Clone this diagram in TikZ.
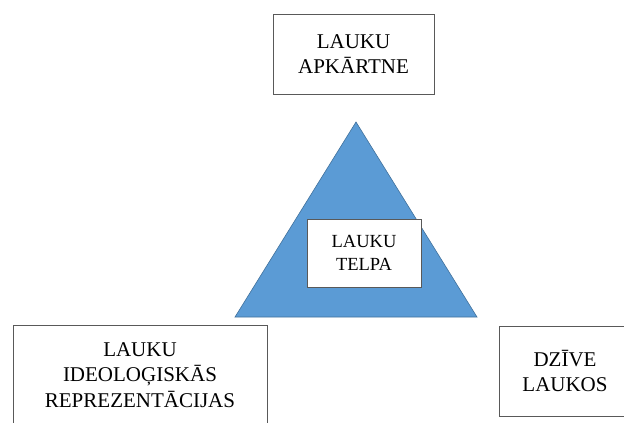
\documentclass[tikz,border=0pt]{standalone}
\usepackage{fontspec}
\setmainfont{Liberation Serif}

\definecolor{triblue}{HTML}{5B9BD5}
\definecolor{triedge}{HTML}{41719C}

\begin{document}
\begin{tikzpicture}[x=1pt, y=-1pt, box/.style = {draw=black!65, line width=1pt, fill=white, align=center, inner sep=0pt, font=\fontsize{21}{25.5}\selectfont}, smallbox/.style = {box, font=\fontsize{18.5}{23}\selectfont}]

% Frame
\useasboundingbox (0,0) rectangle (624,423);
\clip (0,0) rectangle (624,423);

% Triangle
\coordinate (apex) at (356,122);
\coordinate (baseR) at (477,317);
\coordinate (baseL) at (235,317);
\filldraw[fill=triblue, draw=triedge, line width=0.6pt] (apex) -- (baseR) -- (baseL) -- cycle;

% Boxes
\node[box, minimum width=161, minimum height=80] (apkartne) at (353.5,54) {LAUKU\\APKĀRTNE};
\node[smallbox, minimum width=114, minimum height=68] (telpa) at (364,253) {LAUKU\\TELPA};
\node[box, minimum width=254, minimum height=100] (reprez) at (140,375) {LAUKU\\IDEOLOĢISKĀS\\REPREZENTĀCIJAS};
\node[box, minimum width=132, minimum height=90] (dzive) at (565,371) {DZĪVE\\LAUKOS};

\end{tikzpicture}
\end{document}
